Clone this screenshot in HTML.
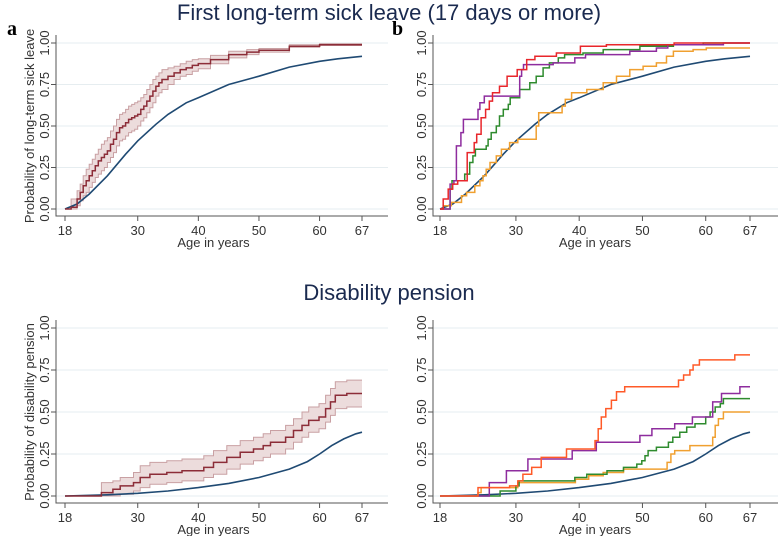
<!DOCTYPE html>
<html><head><meta charset="utf-8"><style>
body{margin:0;background:#fff;}
svg{display:block;font-family:"Liberation Sans",sans-serif;}
</style></head><body>
<svg id="c" width="778" height="536" viewBox="0 0 778 536" xmlns="http://www.w3.org/2000/svg">
<text x="389" y="20" text-anchor="middle" font-size="22" fill="#1a2a4f">First long-term sick leave (17 days or more)</text>
<text x="389" y="300" text-anchor="middle" font-size="22" fill="#1a2a4f">Disability pension</text>
<text x="7" y="35" font-size="20" font-weight="bold" font-family="Liberation Serif,serif">a</text>
<text x="392" y="35" font-size="20" font-weight="bold" font-family="Liberation Serif,serif">b</text>
</svg>
<script>
// ===== Data =====
const xTicks=[18,30,40,50,60,67];
const yTicks=[0,0.25,0.5,0.75,1];
const yTickLabels=["0.00","0.25","0.50","0.75","1.00"];
// smooth reference (blue) curves
const sickRefAge=[18,20,22,25,28,30,33,35,38,40,45,50,55,60,63,67];
const sickRefVal=[0,0.03,0.09,0.2,0.33,0.41,0.51,0.57,0.64,0.67,0.75,0.8,0.855,0.89,0.905,0.92];
const disRefAge=[18,25,30,35,40,45,50,55,58,60,62,64,66,67];
const disRefVal=[0,0.007,0.016,0.03,0.05,0.075,0.11,0.16,0.205,0.25,0.3,0.34,0.37,0.38];
// panel a KM (maroon) with CI
const sickKmAge=[18,19,20,20.5,21,21.5,22,22.5,23,23.5,24,24.5,25,25.5,26,26.5,27,27.5,28,28.5,29,29.5,30,30.5,31,31.5,32,32.5,33,33.5,34,35,36,37,38,39,40,42,45,48,50,55,60,67];
const sickKmVal=[0,0.01,0.06,0.1,0.14,0.17,0.2,0.23,0.26,0.29,0.31,0.33,0.35,0.39,0.42,0.46,0.49,0.5,0.52,0.54,0.55,0.56,0.57,0.6,0.62,0.65,0.68,0.71,0.74,0.76,0.78,0.8,0.82,0.84,0.85,0.865,0.876,0.9,0.93,0.945,0.956,0.98,0.99,0.99];
const sickKmLo=[0,0,0.02,0.05,0.08,0.1,0.13,0.16,0.19,0.21,0.23,0.25,0.28,0.31,0.34,0.38,0.41,0.42,0.44,0.46,0.47,0.48,0.5,0.53,0.55,0.58,0.61,0.64,0.68,0.7,0.72,0.75,0.78,0.8,0.81,0.83,0.845,0.875,0.91,0.93,0.945,0.975,0.985,0.985];
const sickKmHi=[0,0.06,0.11,0.15,0.2,0.24,0.27,0.3,0.33,0.36,0.39,0.41,0.43,0.47,0.5,0.54,0.57,0.58,0.6,0.62,0.63,0.64,0.65,0.67,0.69,0.72,0.75,0.78,0.8,0.82,0.84,0.85,0.86,0.875,0.89,0.9,0.905,0.925,0.95,0.96,0.967,0.99,0.995,0.995];
// panel c KM (maroon) with CI
const disKmAge=[18,24,25.9,27.1,29.3,30.4,32,34.8,37.3,40.9,42.5,44.7,46.9,49.1,50.7,51.9,54.4,55.7,57.1,58.2,59.9,61,61.8,62.6,64.5,67];
const disKmVal=[0,0.02,0.04,0.06,0.08,0.11,0.13,0.14,0.15,0.17,0.2,0.23,0.26,0.28,0.3,0.32,0.35,0.39,0.42,0.45,0.47,0.52,0.56,0.6,0.61,0.61];
const disKmLo=[0,0,0,0.01,0.03,0.05,0.07,0.08,0.09,0.11,0.13,0.16,0.19,0.21,0.23,0.25,0.28,0.32,0.35,0.38,0.4,0.44,0.48,0.52,0.53,0.53];
const disKmHi=[0,0.08,0.09,0.11,0.14,0.18,0.2,0.21,0.22,0.24,0.27,0.3,0.33,0.35,0.37,0.39,0.42,0.46,0.5,0.53,0.55,0.6,0.64,0.68,0.69,0.69];
// panel b step series
const bRedAge=[18,18.5,19.3,20,20.8,22.3,23.4,23.8,24.5,25.2,25.8,26.3,27.4,28.6,30.2,31.7,33,36.4,40.2,44.3,55,67];
const bRedVal=[0,0.06,0.12,0.15,0.17,0.34,0.4,0.45,0.55,0.6,0.65,0.7,0.74,0.8,0.84,0.9,0.92,0.94,0.98,0.99,1,1];
const bPurAge=[18,19.6,20.2,20.6,21.3,21.7,24,24.3,25,27.4,30.6,30.9,31.2,33,35.9,39.3,41,48,52.2,54,62.8,67];
const bPurVal=[0,0.15,0.17,0.38,0.46,0.54,0.6,0.64,0.68,0.68,0.8,0.84,0.87,0.87,0.88,0.91,0.93,0.95,0.97,0.99,1,1];
const bGrnAge=[18,19.6,19.9,21.9,22.7,23.2,23.6,25.3,25.6,26.1,26.9,27.4,28,28.8,29.1,30.6,32.2,33.2,34.3,35.3,36.7,37.7,40.6,43.8,49.6,54.9,59.6,67];
const bGrnVal=[0,0.12,0.17,0.21,0.28,0.32,0.36,0.38,0.42,0.46,0.5,0.56,0.6,0.63,0.67,0.72,0.76,0.8,0.85,0.88,0.91,0.93,0.94,0.96,0.98,0.99,1,1];
const bOrgAge=[18,18.5,19.8,21.4,22.2,23.5,24.3,24.8,25.3,25.9,26.9,27.7,29,30.3,33.2,33.6,37,37.3,37.8,38.8,41.2,43.8,45.9,48,50.1,52.2,53.8,54.9,58,60.1,67];
const bOrgVal=[0,0.02,0.04,0.08,0.1,0.14,0.17,0.2,0.24,0.28,0.32,0.36,0.4,0.42,0.5,0.58,0.58,0.62,0.66,0.7,0.72,0.76,0.8,0.84,0.86,0.88,0.92,0.95,0.96,0.97,0.97];
// panel d step series
const dRedAge=[18,24,29,30.3,31.1,32.5,34,38,42.5,43,43.5,44.2,45.1,45.9,47.2,55.7,56.5,57.5,58,59,64.6,67];
const dRedVal=[0,0.05,0.06,0.09,0.13,0.17,0.23,0.28,0.33,0.4,0.47,0.52,0.57,0.62,0.65,0.69,0.72,0.75,0.78,0.81,0.84,0.84];
const dPurAge=[18,25.8,28.5,31.9,38.9,42.7,49.6,51.5,55.1,57.9,61.1,62.5,65.4,67];
const dPurVal=[0,0.08,0.15,0.22,0.27,0.32,0.36,0.4,0.43,0.47,0.56,0.61,0.65,0.65];
const dGrnAge=[18,27.5,30,30.5,39.3,41.2,44.4,47,49.1,49.9,50.4,50.9,52.2,54.1,54.8,55.9,57,58.3,60,60.7,61.5,62.3,62.8,67];
const dGrnVal=[0,0.03,0.06,0.09,0.11,0.13,0.15,0.17,0.19,0.21,0.24,0.27,0.29,0.32,0.35,0.38,0.41,0.43,0.47,0.5,0.53,0.55,0.58,0.58];
const dOrgAge=[18,24,24.5,30.3,39.4,41.5,43.8,47,53.9,54.5,55.1,57.5,61.1,61.5,62,62.8,67];
const dOrgVal=[0,0.02,0.05,0.08,0.1,0.12,0.14,0.16,0.2,0.25,0.27,0.3,0.35,0.42,0.46,0.5,0.5];

// ===== Drawing =====
const svg=document.getElementById('c');
const NS='http://www.w3.org/2000/svg';
function mk(tag,attrs,parent){const e=document.createElementNS(NS,tag);for(const k in attrs)e.setAttribute(k,attrs[k]);(parent||svg).appendChild(e);return e;}
const BLUE='#1f4a73',MAROON='#8c2d38';
function panel(id,left,x18,x67,y1,y0,axisBottom,ytitle){
  const g=mk('g',{});
  
  
  const X=a=>x18+(a-18)*(x67-x18)/49;
  const Y=v=>y0-v*(y0-y1);
  const w=(id==='a'||id==='c')?332:345;
  yTicks.forEach((t,i)=>{
    const gl=mk('line',{x1:left,x2:left+w,y1:Y(t),y2:Y(t),stroke:'#e6edf0','stroke-width':1},g);
    
    
    mk('line',{x1:left-5,x2:left,y1:Y(t),y2:Y(t),stroke:'#555'},g);
    const tx=mk('text',{x:0,y:0,transform:`translate(${left-7},${Y(t)}) rotate(-90)`,'text-anchor':'middle','font-size':13,fill:'#333'},g);
    tx.textContent=yTickLabels[i];
    
    
  });
  xTicks.forEach(t=>{
    mk('line',{x1:X(t),x2:X(t),y1:axisBottom,y2:axisBottom+5,stroke:'#555'},g);
    const tx=mk('text',{x:X(t),y:axisBottom+19,'text-anchor':'middle','font-size':13,fill:'#333'},g);
    tx.textContent=t;
    
    
  });
  const ax=mk('path',{d:`M${left},${y1-8}V${axisBottom}H${left+w}`,fill:'none',stroke:'#555','stroke-width':1},g);
  
  
  const xt=mk('text',{x:(X(18)+X(67))/2,y:axisBottom+31,'text-anchor':'middle','font-size':13,fill:'#333'},g);
  xt.textContent='Age in years';
  
  
  if(ytitle){
    const yt=mk('text',{x:0,y:0,transform:`translate(${left-22},${(y0+y1)/2}) rotate(-90)`,'text-anchor':'middle','font-size':13,fill:'#333'},g);
    yt.textContent=ytitle;
    
    
  }
  return {g,X,Y};
}
function smooth(p,ages,vals,name){
  let d='';ages.forEach((a,i)=>{d+=(i?'L':'M')+p.X(a).toFixed(1)+','+p.Y(vals[i]).toFixed(1);});
  const e=mk('path',{d,fill:'none',stroke:BLUE,'stroke-width':1.6},p.g);
  
  
}
function stepD(p,ages,vals){
  let d='M'+p.X(ages[0]).toFixed(1)+','+p.Y(vals[0]).toFixed(1);
  for(let i=1;i<ages.length;i++){d+='H'+p.X(ages[i]).toFixed(1)+'V'+p.Y(vals[i]).toFixed(1);}
  return d;
}
function step(p,ages,vals,color,name){
  const e=mk('path',{d:stepD(p,ages,vals),fill:'none',stroke:color,'stroke-width':1.5},p.g);
  
  
}
function band(p,ages,lo,hi,name){
  let d=stepD(p,ages,hi);
  for(let i=ages.length-1;i>=0;i--){
    d+='L'+p.X(ages[i]).toFixed(1)+','+p.Y(lo[i]).toFixed(1);
    if(i>0)d+='L'+p.X(ages[i]).toFixed(1)+','+p.Y(lo[i-1]).toFixed(1);
  }
  d+='Z';
  const e=mk('path',{d,fill:'#ecdcdc',stroke:'none'},p.g);
  
  
  mk('path',{d:stepD(p,ages,hi),fill:'none',stroke:'#c9a0a3','stroke-width':1},p.g);
  mk('path',{d:stepD(p,ages,lo),fill:'none',stroke:'#c9a0a3','stroke-width':1},p.g);
}
const pa=panel('a',56,65,362,43,209,216,'Probability of long-term sick leave');
band(pa,sickKmAge,sickKmLo,sickKmHi,'ci-band-sick');
smooth(pa,sickRefAge,sickRefVal,'reference-curve-sick');
step(pa,sickKmAge,sickKmVal,MAROON,'km-curve-sick');
const pb=panel('b',433,440,750,43,209,216,null);
smooth(pb,sickRefAge,sickRefVal,'reference-curve-sick-b');
step(pb,bOrgAge,bOrgVal,'#f0a030','series-orange-sick');
step(pb,bGrnAge,bGrnVal,'#2e8b2e','series-green-sick');
step(pb,bPurAge,bPurVal,'#8e2c9e','series-purple-sick');
step(pb,bRedAge,bRedVal,'#e8262b','series-red-sick');
const pc=panel('c',56,65,362,328,496,503,'Probability of disability pension');
band(pc,disKmAge,disKmLo,disKmHi,'ci-band-disability');
smooth(pc,disRefAge,disRefVal,'reference-curve-disability');
step(pc,disKmAge,disKmVal,MAROON,'km-curve-disability');
const pd=panel('d',433,440,750,328,496,503,null);
smooth(pd,disRefAge,disRefVal,'reference-curve-disability-d');
step(pd,dOrgAge,dOrgVal,'#f0a030','series-orange-disability');
step(pd,dGrnAge,dGrnVal,'#2e8b2e','series-green-disability');
step(pd,dPurAge,dPurVal,'#8e2c9e','series-purple-disability');
step(pd,dRedAge,dRedVal,'#ff5a28','series-red-disability');
</script>
</body></html>
